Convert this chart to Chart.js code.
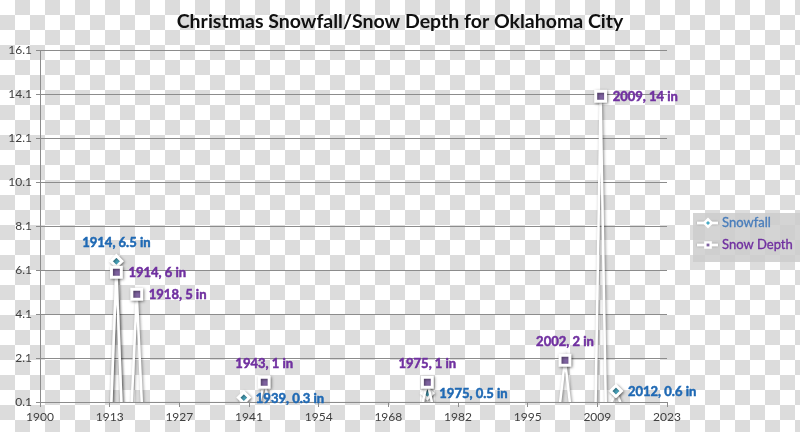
<!DOCTYPE html>
<html>
<head>
<meta charset="utf-8">
<script src="https://cdn.jsdelivr.net/npm/chart.js@4"></script>
<style>
  html, body { margin: 0; padding: 0; }
  body {
    width: 800px; height: 432px; overflow: hidden;
    background: repeating-conic-gradient(#dcdcdc 0 25%, #ffffff 0 50%) 0 0 / 30px 30px;
  }
  #wrap { position: relative; width: 800px; height: 432px; }
</style>
</head>
<body>
<div id="wrap"><canvas id="snow"></canvas></div>
<script>
// Christmas day readings, inches
const snowfallYears = [1914, 1939, 1975, 2012];
const snowfallInches = [6.5, 0.3, 0.5, 0.6];
const depthYears = [1914, 1918, 1943, 1975, 2002, 2009];
const depthInches = [6, 5, 1, 1, 2, 14];

// where each data label sits relative to its marker
const snowfallLabelSide = ['top', 'right', 'right', 'right'];
const depthLabelSide = ['right', 'right', 'top', 'top', 'top', 'right'];

const xTickLabels = ['1900', '1913', '1927', '1941', '1954', '1968', '1982', '1995', '2009', '2023'];
const yTickValues = [0.1, 2.1, 4.1, 6.1, 8.1, 10.1, 12.1, 14.1, 16.1];

const chartTitle = 'Christmas Snowfall/Snow Depth for Oklahoma City';
const xMin = 1900, xMax = 2023;
const xmas = 359 / 365; // Dec 25 as fraction of the year
const labelFont = 'bold 13px Lato';

// every other year is zero, so each reading is a spike up and back down
function spikes(years, values, sides) {
  let pts = [];
  years.forEach((yr, i) => {
    pts.push({ x: yr - 1 + xmas, y: 0 });
    pts.push({ x: yr + xmas, y: values[i], year: yr, side: sides[i] });
    pts.push({ x: yr + 1 + xmas, y: 0 });
  });
  return pts;
}

// heavier text, closer to the Calibri bold of the original
function boldText(ctx, text, x, y) {
  ctx.lineWidth = 0.5;
  ctx.strokeStyle = ctx.fillStyle;
  ctx.strokeText(text, x, y);
  ctx.fillText(text, x, y);
}

const shadowPlugin = {
  id: 'shadow',
  beforeDatasetDraw(chart) {
    const c = chart.ctx;
    c.save();
    c.shadowColor = 'rgba(0,0,0,0.45)';
    c.shadowBlur = 3;
    c.shadowOffsetX = 1;
    c.shadowOffsetY = 1;
  },
  afterDatasetDraw(chart) {
    chart.ctx.restore();
  }
};

const labelPlugin = {
  id: 'pointLabels',
  afterDatasetsDraw(chart) {
    const ctx = chart.ctx;
    chart.data.datasets.forEach((ds, di) => {
      const meta = chart.getDatasetMeta(di);
      meta.data.forEach((pt, i) => {
        const raw = ds.data[i];
        if (!raw.year) return;
        const text = raw.year + ', ' + raw.y + ' in';
        ctx.save();
        ctx.font = labelFont;
        ctx.fillStyle = ds.labelColor;
        ctx.textBaseline = 'middle';
        if (raw.side == 'top') {
          ctx.textAlign = 'center';
          boldText(ctx, text, pt.x, pt.y - 18);
        } else {
          ctx.textAlign = 'left';
          boldText(ctx, text, pt.x + 12, pt.y + 1);
        }
        ctx.restore();
      });
    });
  }
};

// title centred on the whole picture, not just the plot
const titlePlugin = {
  id: 'pageTitle',
  afterDraw(chart) {
    const ctx = chart.ctx;
    ctx.save();
    ctx.font = 'bold 19.5px Lato';
    ctx.fillStyle = '#111111';
    ctx.textAlign = 'center';
    ctx.textBaseline = 'middle';
    ctx.fillText(chartTitle, 400, 22);
    ctx.restore();
  }
};

// Excel style legend box on the right
const legendPlugin = {
  id: 'sideLegend',
  afterDraw(chart) {
    const ctx = chart.ctx;
    const left = 693, top = 213;
    ctx.save();
    ctx.fillStyle = 'rgba(205,205,205,0.85)';
    ctx.fillRect(left, top, 107, 49);
    chart.data.datasets.forEach((ds, i) => {
      const y = top + 10 + i * 22;
      ctx.save();
      ctx.shadowColor = 'rgba(0,0,0,0.35)';
      ctx.shadowBlur = 2;
      ctx.strokeStyle = '#ffffff';
      ctx.lineWidth = 3;
      ctx.beginPath();
      ctx.moveTo(697, y);
      ctx.lineTo(718, y);
      ctx.stroke();
      ctx.restore();
      ctx.fillStyle = '#ffffff';
      ctx.strokeStyle = '#ffffff';
      ctx.lineWidth = 2;
      Chart.helpers.drawPoint(ctx, { pointStyle: ds.pointStyle, radius: 4, borderWidth: 2 }, 708, y);
      ctx.fillStyle = ds.pointBackgroundColor;
      Chart.helpers.drawPoint(ctx, { pointStyle: ds.pointStyle, radius: 2, borderWidth: 0 }, 708, y);
      ctx.font = '13px Lato';
      ctx.fillStyle = ds.legendColor;
      ctx.textAlign = 'left';
      ctx.textBaseline = 'middle';
      ctx.lineWidth = 0.35;
      ctx.strokeStyle = ds.legendColor;
      ctx.strokeText(ds.label, 722, y);
      ctx.fillText(ds.label, 722, y);
    });
    ctx.restore();
  }
};

new Chart(document.getElementById('snow'), {
  type: 'line',
  data: {
    datasets: [
      {
        label: 'Snowfall',
        data: spikes(snowfallYears, snowfallInches, snowfallLabelSide),
        order: 1,
        borderColor: '#ffffff',
        borderWidth: 2.5,
        pointStyle: 'rectRot',
        pointRadius: ctx => (ctx.raw && ctx.raw.y > 0 ? 5.5 : 0),
        pointBackgroundColor: '#4bacc6',
        pointBorderColor: '#ffffff',
        pointBorderWidth: 3,
        labelColor: '#1f69b4',
        legendColor: '#4a7ebb'
      },
      {
        label: 'Snow Depth',
        data: spikes(depthYears, depthInches, depthLabelSide),
        order: 0,
        borderColor: '#ffffff',
        borderWidth: 2.5,
        pointStyle: 'rect',
        pointRadius: ctx => (ctx.raw && ctx.raw.y > 0 ? 7 : 0),
        pointBackgroundColor: '#8064a2',
        pointBorderColor: '#ffffff',
        pointBorderWidth: 3,
        labelColor: '#7030a0',
        legendColor: '#7030a0'
      }
    ]
  },
  options: {
    responsive: true,
    maintainAspectRatio: false,
    animation: false,
    layout: { padding: { left: 0, right: 133, top: 50, bottom: 0 } },
    plugins: {
      legend: { display: false },
      tooltip: { enabled: false },
      title: { display: false }
    },
    scales: {
      x: {
        type: 'linear',
        min: xMin,
        max: xMax,
        afterBuildTicks: scale => {
          scale.ticks = xTickLabels.map((l, i) => ({
            value: xMin + i * (xMax - xMin) / (xTickLabels.length - 1)
          }));
        },
        afterFit: scale => { scale.height = 30; },
        ticks: {
          autoSkip: false,
          maxRotation: 0,
          padding: 3,
          color: '#404040',
          font: { family: 'Lato', size: 12 },
          callback: (v, i) => xTickLabels[i]
        },
        grid: { drawOnChartArea: false, drawTicks: true, tickLength: 5, color: '#8c8c8c' },
        border: { color: '#8c8c8c' }
      },
      y: {
        min: 0.1,
        max: 16.1,
        afterBuildTicks: scale => {
          scale.ticks = yTickValues.map(v => ({ value: v }));
        },
        afterFit: scale => { scale.width = 40; },
        ticks: {
          padding: 4,
          color: '#404040',
          font: { family: 'Lato', size: 12 },
          callback: v => v.toFixed(1)
        },
        grid: { color: '#8c8c8c', tickLength: 4 },
        border: { color: '#8c8c8c' }
      }
    }
  },
  plugins: [shadowPlugin, labelPlugin, titlePlugin, legendPlugin]
});
</script>
</body>
</html>
